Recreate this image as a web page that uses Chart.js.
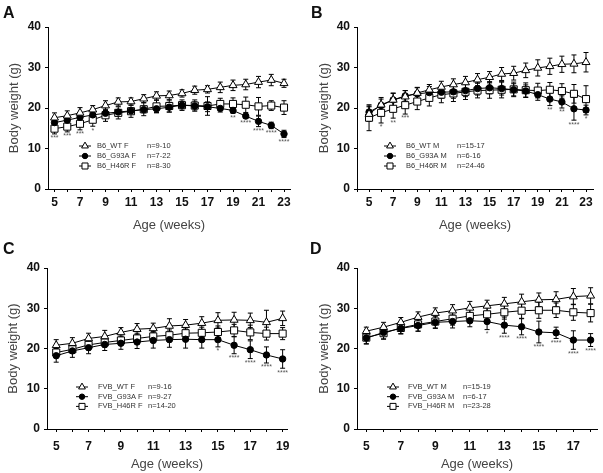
<!DOCTYPE html>
<html>
<head>
<meta charset="utf-8">
<script src="https://cdn.jsdelivr.net/npm/chart.js@4"></script>
<style>
body{margin:0;background:#fff;width:603px;height:473px;position:relative;overflow:hidden;font-family:'Liberation Sans',Arial,sans-serif}
.p{position:absolute}
.lbl{position:absolute;font-weight:bold;font-size:16px;line-height:1;color:#111}
</style>
</head>
<body>
<div class="p" style="left:0;top:0"><canvas id="cA" width="300" height="236"></canvas></div>
<div class="p" style="left:300px;top:0"><canvas id="cB" width="303" height="236"></canvas></div>
<div class="p" style="left:0;top:236px"><canvas id="cC" width="300" height="237"></canvas></div>
<div class="p" style="left:300px;top:236px"><canvas id="cD" width="303" height="237"></canvas></div>
<div class="lbl" style="left:3px;top:5px">A</div>
<div class="lbl" style="left:311px;top:5px">B</div>
<div class="lbl" style="left:3px;top:241px">C</div>
<div class="lbl" style="left:310px;top:241px">D</div>
<script>
// weeks
const weeksB6 = [5,6,7,8,9,10,11,12,13,14,15,16,17,18,19,20,21,22,23];
const weeksFvbF = [5,6,7,8,9,10,11,12,13,14,15,16,17,18,19];
const weeksFvbM = [5,6,7,8,9,10,11,12,13,14,15,16,17,18];

// A: B6 females
const wtF_B6 = [17.6,18.1,18.8,19.6,20.6,21.5,21.6,22.3,23.0,23.1,23.6,24.4,24.6,25.1,25.6,25.8,26.4,26.9,26.1];
const wtF_B6_sd = [1.2,1.2,1.3,1.0,1.2,1.0,0.9,1.0,1.0,1.1,0.9,1.0,0.9,1.3,1.3,1.3,1.4,1.4,1.0];
const g93aF_B6 = [16.4,17.0,17.7,18.3,18.7,19.0,19.3,19.6,19.8,20.2,20.7,20.5,20.3,19.9,19.4,18.0,16.7,15.7,13.6];
const g93aF_B6_sd = [0.8,0.8,0.9,1.0,0.8,0.6,0.8,0.8,1.0,1.2,0.9,1.0,1.2,0.9,0.7,0.5,1.3,0.8,0.9];
const h46rF_B6 = [14.9,15.4,16.1,17.1,18.2,18.8,19.2,19.7,20.4,20.5,20.7,20.6,20.5,21.0,21.0,20.8,20.4,20.6,20.1];
const h46rF_B6_sd = [1.3,1.3,1.5,1.6,1.5,1.5,1.5,1.6,1.5,1.5,1.3,1.4,2.3,1.4,1.5,1.9,2.2,1.2,1.7];
const starsA = ['***','***','***','*','','','','','','','','','','','**','****','****','****','****'];
const namesA = ['B6_WT F','B6_G93A F','B6_H46R F'];
const nA = ['n=9-10','n=7-22','n=8-30'];

// B: B6 males
const wtM_B6 = [18.5,20.8,22.0,22.8,23.7,24.5,25.2,25.8,26.3,27.0,27.6,28.4,28.6,29.3,29.9,30.3,30.8,30.9,31.3];
const wtM_B6_sd = [1.8,1.4,1.6,1.5,1.4,1.3,1.4,1.4,1.5,1.5,1.4,1.6,1.7,1.8,2.0,2.0,2.0,2.2,2.4];
const g93aM_B6 = [19.0,20.6,22.0,23.0,23.5,23.8,23.9,24.0,24.3,24.8,25.0,24.8,24.5,24.2,23.3,22.2,21.5,19.8,19.5];
const g93aM_B6_sd = [1.5,2.0,1.7,1.3,1.5,1.5,1.5,1.6,1.5,1.6,1.5,1.6,1.5,1.5,1.4,1.6,1.5,2.8,1.2];
const h46rM_B6 = [17.6,18.8,19.8,20.7,21.6,22.5,23.3,23.6,24.0,24.3,24.4,24.5,24.6,24.4,24.3,24.5,24.2,23.5,22.2];
const h46rM_B6_sd = [3.2,2.5,2.3,2.2,2.0,2.0,2.0,2.0,1.9,1.8,2.0,2.0,1.8,1.8,1.8,1.8,1.8,2.3,3.3];
const starsB = ['','*','**','***','','','','','','','','','','','','**','**','****','*'];
const namesB = ['B6_WT M','B6_G93A M','B6_H46R M'];
const nB = ['n=15-17','n=6-16','n=24-46'];

// C: FVB females
const wtF_FVB = [20.8,21.3,22.5,23.0,24.0,24.8,25.0,25.6,25.8,26.3,27.0,27.1,27.0,26.5,27.5];
const wtF_FVB_sd = [1.4,1.4,1.3,1.5,1.2,1.4,1.3,1.8,1.4,1.6,1.9,1.9,1.8,3.0,1.8];
const g93aF_FVB = [18.2,19.4,20.2,21.0,21.3,21.6,22.0,22.2,22.3,22.2,22.2,20.8,19.7,18.4,17.4];
const g93aF_FVB_sd = [1.6,1.6,1.5,1.5,1.5,1.6,1.9,1.9,2.2,2.1,1.8,2.1,2.2,2.0,2.3];
const h46rF_FVB = [19.0,19.8,20.9,21.5,22.0,22.5,23.0,23.3,23.8,23.9,24.1,24.5,24.0,23.7,23.7];
const h46rF_FVB_sd = [1.0,1.0,1.2,1.2,1.1,1.3,1.2,1.3,1.3,1.4,1.5,1.5,1.8,1.6,1.5];
const starsC = ['','','','','','','','','','','*','****','****','****','****'];
const namesC = ['FVB_WT F','FVB_G93A F','FVB_H46R F'];
const nC = ['n=9-16','n=9-27','n=14-20'];

// D: FVB males
const wtM_FVB = [24.3,25.3,26.5,27.8,28.8,29.4,30.1,30.6,31.1,31.6,32.1,32.2,32.9,33.1];
const wtM_FVB_sd = [1.0,1.2,1.2,1.3,1.3,1.5,1.6,1.4,1.6,1.9,1.7,1.9,2.0,2.0];
const g93aM_FVB = [22.6,24.0,25.0,25.7,26.5,26.7,26.9,26.7,25.8,25.4,24.1,23.9,22.1,22.1];
const g93aM_FVB_sd = [1.5,1.6,1.3,1.4,1.5,1.6,1.5,2.0,2.0,2.0,2.7,1.4,2.3,1.6];
const h46rM_FVB = [22.7,23.8,25.1,26.0,26.7,27.4,28.1,28.5,29.0,29.4,29.5,29.5,29.0,28.8];
const h46rM_FVB_sd = [1.5,1.5,1.5,1.7,1.6,1.6,1.6,1.6,1.7,1.9,2.0,1.8,2.0,2.2];
const starsD = ['','','','','','','','*','****','****','****','****','****','****'];
const namesD = ['FVB_WT M','FVB_G93A M','FVB_H46R M'];
const nD = ['n=15-19','n=6-17','n=23-28'];

const FONT = "'Liberation Sans', Arial, sans-serif";
Chart.defaults.font.family = FONT;

const styles = [
  {pointStyle:'triangle', pointRadius:4.6, pointBackgroundColor:'#fff'},
  {pointStyle:'circle', pointRadius:3.2, pointBackgroundColor:'#000'},
  {pointStyle:'rect', pointRadius:5, pointBackgroundColor:'#fff'}
];

function pts(xs, ys){ return xs.map((x,i)=>({x:x, y:ys[i]})); }

function makePanel(id, p){
  const datasets = p.series.map((s,k)=>Object.assign({
    label:p.names[k], data:pts(p.weeks, s), borderColor:'#000', borderWidth:1,
    pointBorderColor:'#000', pointBorderWidth:1, tension:0, fill:false
  }, styles[k]));

  const extras = {
    id:'extras',
    beforeDatasetsDraw(chart){
      const ctx = chart.ctx, ys = chart.scales.y;
      ctx.save(); ctx.strokeStyle='#000'; ctx.lineWidth=1;
      p.series.forEach((s,k)=>{
        const meta = chart.getDatasetMeta(k);
        s.forEach((v,j)=>{
          const x = meta.data[j].x, e = p.errs[k][j];
          const t = ys.getPixelForValue(v+e), b = ys.getPixelForValue(v-e);
          ctx.beginPath();
          ctx.moveTo(x,t); ctx.lineTo(x,b);
          ctx.moveTo(x-2.5,t); ctx.lineTo(x+2.5,t);
          ctx.moveTo(x-2.5,b); ctx.lineTo(x+2.5,b);
          ctx.stroke();
        });
      });
      ctx.restore();
    },
    afterDatasetsDraw(chart){
      const ctx = chart.ctx, ys = chart.scales.y, xs = chart.scales.x;
      ctx.save();
      ctx.fillStyle='#555'; ctx.font='7px '+FONT; ctx.textAlign='center'; ctx.textBaseline='middle';
      p.stars.forEach((st,j)=>{
        if(!st) return;
        let low = Infinity;
        p.series.forEach((s,k)=>{ low = Math.min(low, s[j]-p.errs[k][j]); });
        ctx.fillText(st, xs.getPixelForValue(p.weeks[j]), ys.getPixelForValue(low-1.1));
      });
      // legend
      const L = p.legend;
      ctx.textAlign='left';
      p.names.forEach((nm,k)=>{
        const y = L.y + k*L.gap;
        ctx.strokeStyle='#000'; ctx.lineWidth=1;
        ctx.beginPath(); ctx.moveTo(L.mx-6,y); ctx.lineTo(L.mx+6,y); ctx.stroke();
        ctx.fillStyle = styles[k].pointBackgroundColor;
        Chart.helpers.drawPoint(ctx, {pointStyle:styles[k].pointStyle, radius:styles[k].pointRadius*0.85, borderWidth:1, rotation:0}, L.mx, y);
        ctx.fillStyle='#333'; ctx.font='7.5px '+FONT;
        ctx.fillText(nm, L.tx, y);
        ctx.fillText(p.ns[k], L.nx, y);
      });
      ctx.restore();
    }
  };

  new Chart(document.getElementById(id), {
    type:'line',
    data:{datasets:datasets},
    options:{
      responsive:false, animation:false, devicePixelRatio:1,
      layout:{padding:{left:0, top:p.top, right:p.right, bottom:0}},
      plugins:{legend:{display:false}, tooltip:{enabled:false}},
      scales:{
        x:{type:'linear', min:p.xmin, max:p.xmax,
          ticks:{stepSize:1, includeBounds:false, autoSkip:false, maxRotation:0,
            callback:v=>(v%2===1?String(v):''), color:'#111', font:{size:12, weight:'bold'}, padding:p.xpad},
          grid:{display:true, drawOnChartArea:false, tickLength:3, color:'#000'},
          border:{display:true, color:'#000', width:1},
          title:{display:true, text:'Age (weeks)', color:'#444', font:{size:13}, padding:{top:0, bottom:p.xtb}},
          afterFit:s=>{ s.height = p.xh; }
        },
        y:{min:0, max:40,
          ticks:{stepSize:10, color:'#111', font:{size:12, weight:'bold'}, padding:4},
          grid:{display:true, drawOnChartArea:false, tickLength:3, color:'#000'},
          border:{display:true, color:'#000', width:1},
          title:{display:true, text:'Body weight (g)', color:'#444', font:{size:13}, padding:{top:p.ytp, bottom:0}},
          afterFit:s=>{ s.width = p.yw; }
        }
      }
    },
    plugins:[extras]
  });
}

makePanel('cA', {weeks:weeksB6, series:[wtF_B6,g93aF_B6,h46rF_B6], errs:[wtF_B6_sd,g93aF_B6_sd,h46rF_B6_sd],
  stars:starsA, names:namesA, ns:nA, top:27, right:10, xmin:4.49, xmax:23.47, yw:48, xh:47, xpad:3, xtb:3, ytp:7,
  legend:{mx:85, tx:97, nx:147, y:146, gap:10}});
makePanel('cB', {weeks:weeksB6, series:[wtM_B6,g93aM_B6,h46rM_B6], errs:[wtM_B6_sd,g93aM_B6_sd,h46rM_B6_sd],
  stars:starsB, names:namesB, ns:nB, top:27, right:10, xmin:4.0, xmax:23.58, yw:57, xh:47, xpad:3, xtb:3, ytp:17,
  legend:{mx:90, tx:106, nx:157, y:146, gap:10}});
makePanel('cC', {weeks:weeksFvbF, series:[wtF_FVB,g93aF_FVB,h46rF_FVB], errs:[wtF_FVB_sd,g93aF_FVB_sd,h46rF_FVB_sd],
  stars:starsC, names:namesC, ns:nC, top:32, right:13, xmin:4.43, xmax:19.27, yw:47, xh:44, xpad:7, xtb:1, ytp:6,
  legend:{mx:82, tx:98, nx:148, y:151, gap:9.7}});
makePanel('cD', {weeks:weeksFvbM, series:[wtM_FVB,g93aM_FVB,h46rM_FVB], errs:[wtM_FVB_sd,g93aM_FVB_sd,h46rM_FVB_sd],
  stars:starsD, names:namesD, ns:nD, top:32, right:5, xmin:4.46, xmax:18.37, yw:57, xh:44, xpad:7, xtb:1, ytp:17,
  legend:{mx:93, tx:108, nx:163, y:151, gap:9.7}});
</script>
</body>
</html>
